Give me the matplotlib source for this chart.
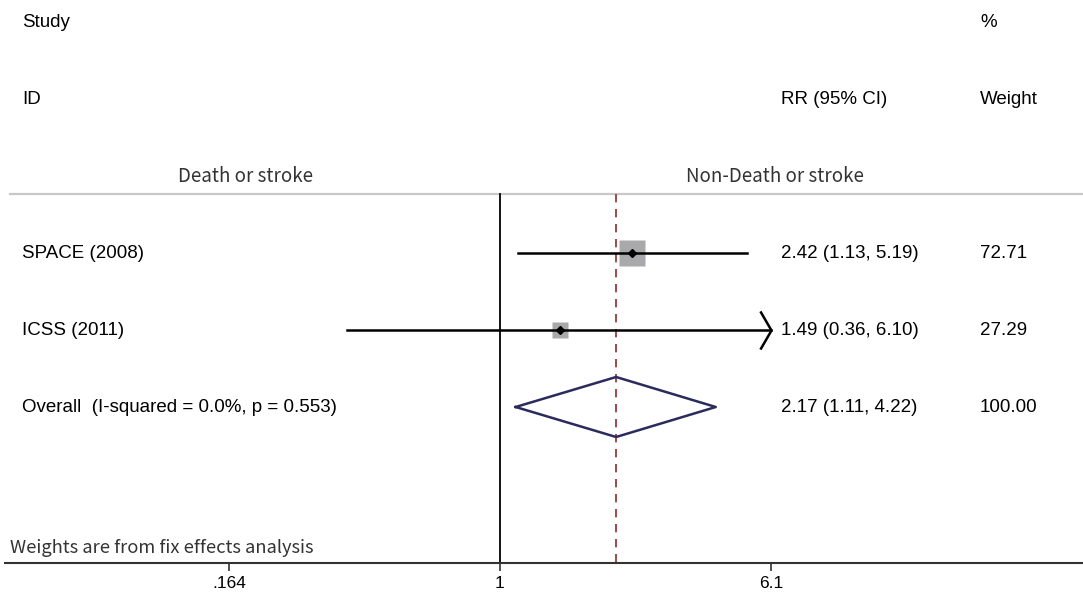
import matplotlib
matplotlib.use('Agg')
import matplotlib.pyplot as plt
import numpy as np
from matplotlib.path import Path
import matplotlib.transforms as mtransforms

# study data
studies = ['SPACE (2008)', 'ICSS (2011)']
rr = [2.42, 1.49]
lo = [1.13, 0.36]
hi = [5.19, 6.10]
weights = [72.71, 27.29]
weight_txt = ['72.71', '27.29']
ci_txt = ['2.42 (1.13, 5.19)', '1.49 (0.36, 6.10)']

# pooled
overall_label = 'Overall  (I-squared = 0.0%, p = 0.553)'
ov_rr, ov_lo, ov_hi = 2.17, 1.11, 4.22
ov_ci_txt = '2.17 (1.11, 4.22)'
ov_weight_txt = '100.00'

xticks = [0.164, 1, 6.1]
xticklabels = ['.164', '1', '6.1']
x_clip = 6.1  # upper plotting limit of the CI region

W, H = 1083, 594
fig = plt.figure(figsize=(W / 100, H / 100), dpi=100)
ax = fig.add_axes([0, (H - 563) / H, 1, 563 / H])

# pixel <-> log scale : 1 sits at 500 px, 6.1 at 771 px
px_per = 271 / np.log(6.1)
ax.set_xscale('log')
ax.set_xlim(np.exp((0 - 500) / px_per), np.exp((W - 500) / px_per))
ax.set_ylim((563 - 22) / 77, -22 / 77)

sans = 'Liberation Sans'
kr = 'Noto Sans CJK KR'
fs = 13.5
bt = mtransforms.blended_transform_factory(ax.transAxes, ax.transData)
def px(x):
    return x / W

# headers
ax.text(px(22), 0, 'Study', transform=bt, fontsize=fs, family=sans, va='center')
ax.text(px(980), 0, '%', transform=bt, fontsize=fs, family=sans, va='center')
ax.text(px(22), 1, 'ID', transform=bt, fontsize=fs, family=sans, va='center')
ax.text(px(781), 1, 'RR (95% CI)', transform=bt, fontsize=fs, family=sans, va='center')
ax.text(px(980), 1, 'Weight', transform=bt, fontsize=fs, family=sans, va='center')
ax.text(px(246), 2, 'Death or stroke', transform=bt, fontsize=13.5, family=kr,
        color='#333333', ha='center', va='center')
ax.text(px(775), 2, 'Non-Death or stroke', transform=bt, fontsize=13.5, family=kr,
        color='#333333', ha='center', va='center')

hline_y = (194 - 22) / 77
ax.plot([px(10), 1], [hline_y, hline_y], transform=bt, color='#c8c8c8', lw=1.6,
        clip_on=False)

ybot = (563 - 22) / 77
ax.plot([1, 1], [hline_y, ybot], color='black', lw=1.3)
ax.plot([ov_rr, ov_rr], [hline_y, ybot], color='#8c2a2a', lw=1.2, dashes=(5, 4))

# studies
chevron = Path([(-0.58, 1), (0, 0), (-0.58, -1)],
               [Path.MOVETO, Path.LINETO, Path.LINETO])
for i, name in enumerate(studies):
    r = 3 + i
    ax.text(px(22), r, name, transform=bt, fontsize=fs, family=sans, va='center')
    ax.text(px(781), r, ci_txt[i], transform=bt, fontsize=fs, family=sans, va='center')
    ax.text(px(980), r, weight_txt[i], transform=bt, fontsize=fs, family=sans, va='center')
    ax.plot(rr[i], r, marker='s', ms=2.25 * np.sqrt(weights[i]), color='#a9a9ab',
            mec='none', zorder=2)
    right = min(hi[i], x_clip)
    ax.plot([lo[i], right], [r, r], color='black', lw=1.8, zorder=3)
    ax.plot(rr[i], r, marker='D', ms=4.5, color='black', zorder=4)
    if hi[i] >= x_clip:
        ax.plot(right, r, marker=chevron, ms=27.5, mfc='none', mec='black',
                mew=1.8, zorder=3)

# overall
r = 5
ax.text(px(22), r, overall_label, transform=bt, fontsize=fs, family=sans, va='center')
ax.text(px(781), r, ov_ci_txt, transform=bt, fontsize=fs, family=sans, va='center')
ax.text(px(980), r, ov_weight_txt, transform=bt, fontsize=fs, family=sans, va='center')
h = 30 / 77
ax.plot([ov_lo, ov_rr, ov_hi, ov_rr, ov_lo], [r, r - h, r, r + h, r],
        color='#2b2a5c', lw=1.8, zorder=3)

ax.text(px(10), (548 - 22) / 77, 'Weights are from fix effects analysis',
        transform=bt, fontsize=13.2, family=kr, color='#333333', va='center')

# axis
for s in ['top', 'left', 'right']:
    ax.spines[s].set_visible(False)
ax.spines['bottom'].set_bounds(np.exp((5 - 500) / px_per), np.exp((W - 500) / px_per))
ax.spines['bottom'].set_linewidth(1.5)
ax.spines['bottom'].set_color('#333333')
ax.set_yticks([])
ax.set_xticks(xticks)
ax.set_xticklabels(xticklabels, family=sans, fontsize=12.5, color='black')
ax.xaxis.set_minor_locator(matplotlib.ticker.NullLocator())
ax.tick_params(axis='x', length=5.5, width=1.2, color='#333333', pad=3.5)
ax.patch.set_visible(False)

fig.savefig('out.png', dpi=100)
